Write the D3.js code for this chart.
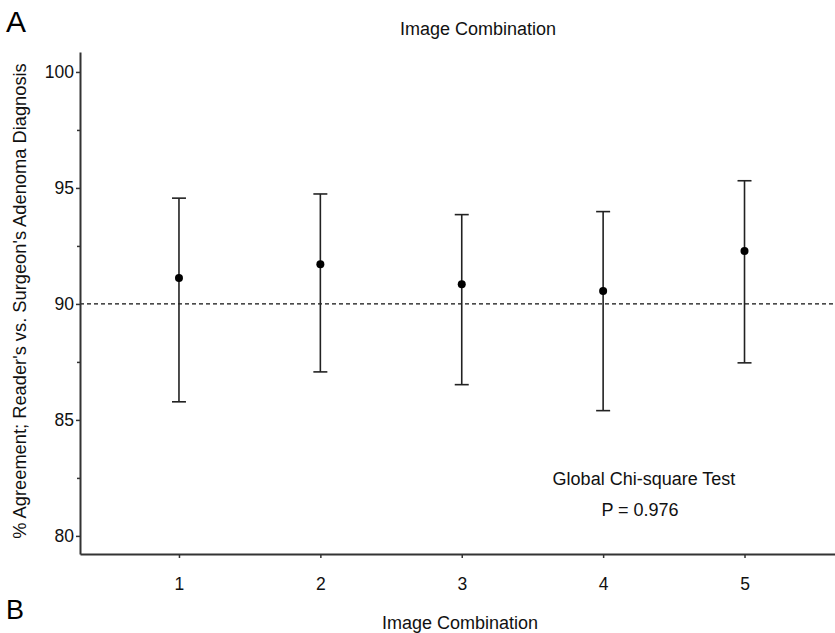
<html>
<head>
<style>
  body { margin:0; background:#fff; }
  svg { display:block; font-family:"Liberation Sans", Arial, sans-serif; }
</style>
<script src="https://cdn.jsdelivr.net/npm/d3@7"></script>
</head>
<body>
<svg id="chart" width="835" height="633"></svg>
<script>
// image combinations and agreement estimates (%), with 95% CI
var combos = [1, 2, 3, 4, 5];
var agreement = [91.12, 91.71, 90.85, 90.56, 92.28];
var ciLow = [85.78, 87.07, 86.52, 85.40, 87.46];
var ciHigh = [94.56, 94.74, 93.85, 93.98, 95.31];
var yTicks = [80, 85, 90, 95, 100];
var yMinor = [82.5, 87.5, 92.5, 97.5];
var refLine = 90;

var svg = d3.select("#chart");
var x = d3.scaleLinear().domain([0.3, 5.64]).range([80, 835]);
var y = d3.scaleLinear().domain([79.22, 100.86]).range([554, 52]);

// panel letters and titles
svg.append("text").attr("x", 6).attr("y", 32).attr("font-size", 30).text("A");
svg.append("text").attr("x", 6).attr("y", 619).attr("font-size", 27).text("B");
svg.append("text").attr("x", 478).attr("y", 35).attr("text-anchor", "middle")
  .attr("font-size", 18).attr("fill", "#111").text("Image Combination");
svg.append("text").attr("x", 460).attr("y", 629).attr("text-anchor", "middle")
  .attr("font-size", 18).attr("fill", "#111").text("Image Combination");
svg.append("text").attr("transform", "translate(26,301) rotate(-90)")
  .attr("text-anchor", "middle").attr("font-size", 18.3).attr("fill", "#111")
  .text("% Agreement; Reader's vs. Surgeon's Adenoma Diagnosis");

// reference line
svg.append("line")
  .attr("x1", x.range()[0]).attr("x2", 835)
  .attr("y1", y(refLine)).attr("y2", y(refLine))
  .attr("stroke", "#111").attr("stroke-width", 1.3).attr("stroke-dasharray", "4,3");

// axes
var yAxis = svg.append("g").attr("transform", "translate(80,0)")
  .call(d3.axisLeft(y).tickValues(yTicks).tickSize(4).tickSizeOuter(0).tickPadding(2));
var yAxisMinor = svg.append("g").attr("transform", "translate(80,0)")
  .call(d3.axisLeft(y).tickValues(yMinor).tickSize(3).tickSizeOuter(0).tickFormat(""));
yAxisMinor.select(".domain").remove();
var xAxis = svg.append("g").attr("transform", "translate(0,554)")
  .call(d3.axisBottom(x).tickValues(combos).tickSize(4).tickSizeOuter(0).tickPadding(20)
    .tickFormat(d3.format("d")));

svg.selectAll(".domain").attr("stroke", "#333").attr("stroke-width", 2);
svg.selectAll(".tick line").attr("stroke", "#333").attr("stroke-width", 1.5);
svg.selectAll(".tick text").attr("font-size", 17.5).attr("fill", "#111")
  .attr("font-family", "\"Liberation Sans\", Arial, sans-serif");

// error bars
var bars = svg.append("g").selectAll("g").data(combos).join("g");
bars.append("line")
  .attr("x1", function(d) { return x(d); }).attr("x2", function(d) { return x(d); })
  .attr("y1", function(d, i) { return y(ciLow[i]); })
  .attr("y2", function(d, i) { return y(ciHigh[i]); })
  .attr("stroke", "#222").attr("stroke-width", 1.6);
bars.append("line")
  .attr("x1", function(d) { return x(d) - 7; }).attr("x2", function(d) { return x(d) + 7; })
  .attr("y1", function(d, i) { return y(ciHigh[i]); })
  .attr("y2", function(d, i) { return y(ciHigh[i]); })
  .attr("stroke", "#222").attr("stroke-width", 1.6);
bars.append("line")
  .attr("x1", function(d) { return x(d) - 7; }).attr("x2", function(d) { return x(d) + 7; })
  .attr("y1", function(d, i) { return y(ciLow[i]); })
  .attr("y2", function(d, i) { return y(ciLow[i]); })
  .attr("stroke", "#222").attr("stroke-width", 1.6);
bars.append("circle")
  .attr("cx", function(d) { return x(d); })
  .attr("cy", function(d, i) { return y(agreement[i]); })
  .attr("r", 4).attr("fill", "#000");

// test annotation
svg.append("text").attr("x", 644).attr("y", 485).attr("text-anchor", "middle")
  .attr("font-size", 18).attr("fill", "#111").text("Global Chi-square Test");
svg.append("text").attr("x", 640).attr("y", 516).attr("text-anchor", "middle")
  .attr("font-size", 18).attr("fill", "#111").text("P = 0.976");
</script>
</body>
</html>
